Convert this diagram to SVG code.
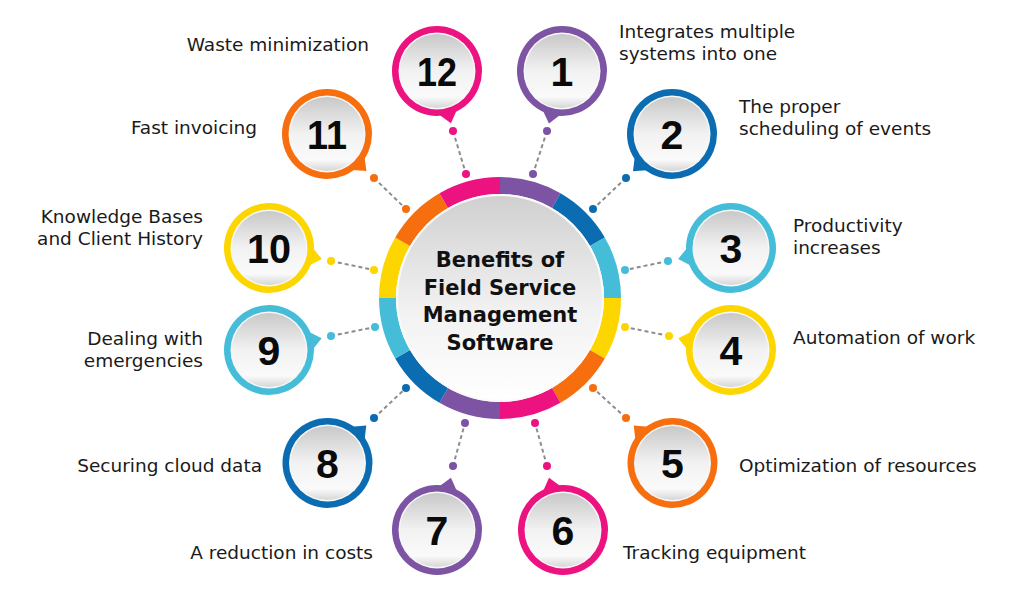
<svg xmlns="http://www.w3.org/2000/svg" width="1017" height="600" viewBox="0 0 1017 600">
<defs>
<linearGradient id="gNode" x1="0" y1="0" x2="0" y2="1">
<stop offset="0" stop-color="#c8c8c8"/>
<stop offset="0.5" stop-color="#f2f2f2"/>
<stop offset="0.85" stop-color="#fafafa"/>
<stop offset="1" stop-color="#d6d6d6"/>
</linearGradient>
<linearGradient id="gCenter" x1="0" y1="0" x2="0" y2="1">
<stop offset="0" stop-color="#d0d0d0"/>
<stop offset="0.55" stop-color="#f1f1f1"/>
<stop offset="1" stop-color="#ffffff"/>
</linearGradient>
<path id="tail" d="M 38,-13 L 54,0 L 38,13 Z"/>
</defs>
<style>
.purple{fill:#7c54a3}.blue{fill:#0b6cb2}.cyan{fill:#46bdd8}.yellow{fill:#fdd600}.orange{fill:#f76e0e}.pink{fill:#ec1380}
.seg{fill:none;stroke-width:17}
.s-purple{stroke:#7c54a3}.s-blue{stroke:#0b6cb2}.s-cyan{stroke:#46bdd8}.s-yellow{stroke:#fdd600}.s-orange{stroke:#f76e0e}.s-pink{stroke:#ec1380}
.rim{fill:#f7f7f7}
.face{fill:url(#gNode)}
.num{font-family:"Liberation Sans",Arial,sans-serif;font-weight:700;font-size:41px;fill:#0a0a0a;text-anchor:middle}
.lbl{font-family:"DejaVu Sans",sans-serif;font-size:18.5px;fill:#1a1a1a}
.end{text-anchor:end}
.title{font-family:"DejaVu Sans",sans-serif;font-weight:700;font-size:21px;fill:#111;text-anchor:middle}
.dash{stroke:#8c8c8c;stroke-width:2;stroke-dasharray:4 3;fill:none}
</style>
<rect width="1017" height="600" fill="#ffffff"/>

<g id="connectors">
<line class="dash" x1="547" y1="131" x2="533" y2="174"/>
<line class="dash" x1="453" y1="131" x2="466" y2="174"/>
<line class="dash" x1="626" y1="178" x2="593" y2="209"/>
<line class="dash" x1="374" y1="178" x2="406" y2="209"/>
<line class="dash" x1="668" y1="261" x2="625" y2="270"/>
<line class="dash" x1="331" y1="261" x2="374" y2="270"/>
<line class="dash" x1="669" y1="336" x2="625" y2="327"/>
<line class="dash" x1="331" y1="336" x2="375" y2="327"/>
<line class="dash" x1="626" y1="418" x2="593" y2="388"/>
<line class="dash" x1="374" y1="418" x2="406" y2="388"/>
<line class="dash" x1="547" y1="466" x2="535" y2="423"/>
<line class="dash" x1="453" y1="466" x2="465" y2="423"/>
<circle class="purple" cx="547" cy="131" r="4"/><circle class="purple" cx="533" cy="174" r="4"/>
<circle class="pink" cx="453" cy="131" r="4"/><circle class="pink" cx="466" cy="174" r="4"/>
<circle class="blue" cx="626" cy="178" r="4"/><circle class="blue" cx="593" cy="209" r="4"/>
<circle class="orange" cx="374" cy="178" r="4"/><circle class="orange" cx="406" cy="209" r="4"/>
<circle class="cyan" cx="668" cy="261" r="4"/><circle class="cyan" cx="625" cy="270" r="4"/>
<circle class="yellow" cx="331" cy="261" r="4"/><circle class="yellow" cx="374" cy="270" r="4"/>
<circle class="yellow" cx="669" cy="336" r="4"/><circle class="yellow" cx="625" cy="327" r="4"/>
<circle class="cyan" cx="331" cy="336" r="4"/><circle class="cyan" cx="375" cy="327" r="4"/>
<circle class="orange" cx="626" cy="418" r="4"/><circle class="orange" cx="593" cy="388" r="4"/>
<circle class="blue" cx="374" cy="418" r="4"/><circle class="blue" cx="406" cy="388" r="4"/>
<circle class="pink" cx="547" cy="466" r="4"/><circle class="pink" cx="535" cy="423" r="4"/>
<circle class="purple" cx="453" cy="466" r="4"/><circle class="purple" cx="465" cy="423" r="4"/>
</g>

<g id="center">
<path class="seg s-purple" d="M 500,185.5 A 112.5 112.5 0 0 1 556.25,200.57"/>
<path class="seg s-blue" d="M 556.25,200.57 A 112.5 112.5 0 0 1 597.43,241.75"/>
<path class="seg s-cyan" d="M 597.43,241.75 A 112.5 112.5 0 0 1 612.5,298"/>
<path class="seg s-yellow" d="M 612.5,298 A 112.5 112.5 0 0 1 597.43,354.25"/>
<path class="seg s-orange" d="M 597.43,354.25 A 112.5 112.5 0 0 1 556.25,395.43"/>
<path class="seg s-pink" d="M 556.25,395.43 A 112.5 112.5 0 0 1 500,410.5"/>
<path class="seg s-purple" d="M 500,410.5 A 112.5 112.5 0 0 1 443.75,395.43"/>
<path class="seg s-blue" d="M 443.75,395.43 A 112.5 112.5 0 0 1 402.57,354.25"/>
<path class="seg s-cyan" d="M 402.57,354.25 A 112.5 112.5 0 0 1 387.5,298"/>
<path class="seg s-yellow" d="M 387.5,298 A 112.5 112.5 0 0 1 402.57,241.75"/>
<path class="seg s-orange" d="M 402.57,241.75 A 112.5 112.5 0 0 1 443.75,200.57"/>
<path class="seg s-pink" d="M 443.75,200.57 A 112.5 112.5 0 0 1 500,185.5"/>
<circle cx="500" cy="298" r="104" fill="#fafafa"/>
<circle cx="500" cy="298" r="102" fill="url(#gCenter)"/>
<text class="title" x="500" y="267">Benefits of</text>
<text class="title" x="500" y="295">Field Service</text>
<text class="title" x="500" y="322">Management</text>
<text class="title" x="500" y="350">Software</text>
</g>

<g id="node-1">
<g transform="translate(562,71)"><use href="#tail" class="purple" transform="rotate(104)"/><circle r="45" class="purple"/><circle r="38.5" class="rim"/><circle r="37" class="face"/><text class="num" y="14.7">1</text></g>
<text class="lbl" x="619" y="38">Integrates multiple</text>
<text class="lbl" x="619" y="60">systems into one</text>
</g>
<g id="node-2">
<g transform="translate(672,134)"><use href="#tail" class="blue" transform="rotate(136.3)"/><circle r="45" class="blue"/><circle r="38.5" class="rim"/><circle r="37" class="face"/><text class="num" y="14.7">2</text></g>
<text class="lbl" x="739" y="113">The proper</text>
<text class="lbl" x="739" y="135">scheduling of events</text>
</g>
<g id="node-3">
<g transform="translate(731,248)"><use href="#tail" class="cyan" transform="rotate(168.3)"/><circle r="45" class="cyan"/><circle r="38.5" class="rim"/><circle r="37" class="face"/><text class="num" y="14.7">3</text></g>
<text class="lbl" x="793" y="232">Productivity</text>
<text class="lbl" x="793" y="254">increases</text>
</g>
<g id="node-4">
<g transform="translate(731,350)"><use href="#tail" class="yellow" transform="rotate(192.7)"/><circle r="45" class="yellow"/><circle r="38.5" class="rim"/><circle r="37" class="face"/><text class="num" y="14.7">4</text></g>
<text class="lbl" x="793" y="344">Automation of work</text>
</g>
<g id="node-5">
<g transform="translate(672.5,463)"><use href="#tail" class="orange" transform="rotate(224.1)"/><circle r="45" class="orange"/><circle r="38.5" class="rim"/><circle r="37" class="face"/><text class="num" y="14.7">5</text></g>
<text class="lbl" x="739" y="472">Optimization of resources</text>
</g>
<g id="node-6">
<g transform="translate(563,530)"><use href="#tail" class="pink" transform="rotate(255)"/><circle r="45" class="pink"/><circle r="38.5" class="rim"/><circle r="37" class="face"/><text class="num" y="14.7">6</text></g>
<text class="lbl" x="623" y="559">Tracking equipment</text>
</g>
<g id="node-7">
<g transform="translate(437,530)"><use href="#tail" class="purple" transform="rotate(285)"/><circle r="45" class="purple"/><circle r="38.5" class="rim"/><circle r="37" class="face"/><text class="num" y="14.7">7</text></g>
<text class="lbl end" x="373" y="559">A reduction in costs</text>
</g>
<g id="node-8">
<g transform="translate(327.5,463)"><use href="#tail" class="blue" transform="rotate(-44.1)"/><circle r="45" class="blue"/><circle r="38.5" class="rim"/><circle r="37" class="face"/><text class="num" y="14.7">8</text></g>
<text class="lbl end" x="262" y="472">Securing cloud data</text>
</g>
<g id="node-9">
<g transform="translate(269,350)"><use href="#tail" class="cyan" transform="rotate(-12.7)"/><circle r="45" class="cyan"/><circle r="38.5" class="rim"/><circle r="37" class="face"/><text class="num" y="14.7">9</text></g>
<text class="lbl end" x="203" y="345">Dealing with</text>
<text class="lbl end" x="203" y="367">emergencies</text>
</g>
<g id="node-10">
<g transform="translate(269,248)"><use href="#tail" class="yellow" transform="rotate(11.8)"/><circle r="45" class="yellow"/><circle r="38.5" class="rim"/><circle r="37" class="face"/><text class="num" y="14.7" textLength="44" lengthAdjust="spacingAndGlyphs">10</text></g>
<text class="lbl end" x="203" y="223">Knowledge Bases</text>
<text class="lbl end" x="203" y="245">and Client History</text>
</g>
<g id="node-11">
<g transform="translate(327,134)"><use href="#tail" class="orange" transform="rotate(43.1)"/><circle r="45" class="orange"/><circle r="38.5" class="rim"/><circle r="37" class="face"/><text class="num" y="14.7" textLength="40" lengthAdjust="spacingAndGlyphs">11</text></g>
<text class="lbl end" x="257" y="134">Fast invoicing</text>
</g>
<g id="node-12">
<g transform="translate(437,71)"><use href="#tail" class="pink" transform="rotate(75.1)"/><circle r="45" class="pink"/><circle r="38.5" class="rim"/><circle r="37" class="face"/><text class="num" y="14.7" textLength="40" lengthAdjust="spacingAndGlyphs">12</text></g>
<text class="lbl end" x="369" y="51">Waste minimization</text>
</g>
</svg>
